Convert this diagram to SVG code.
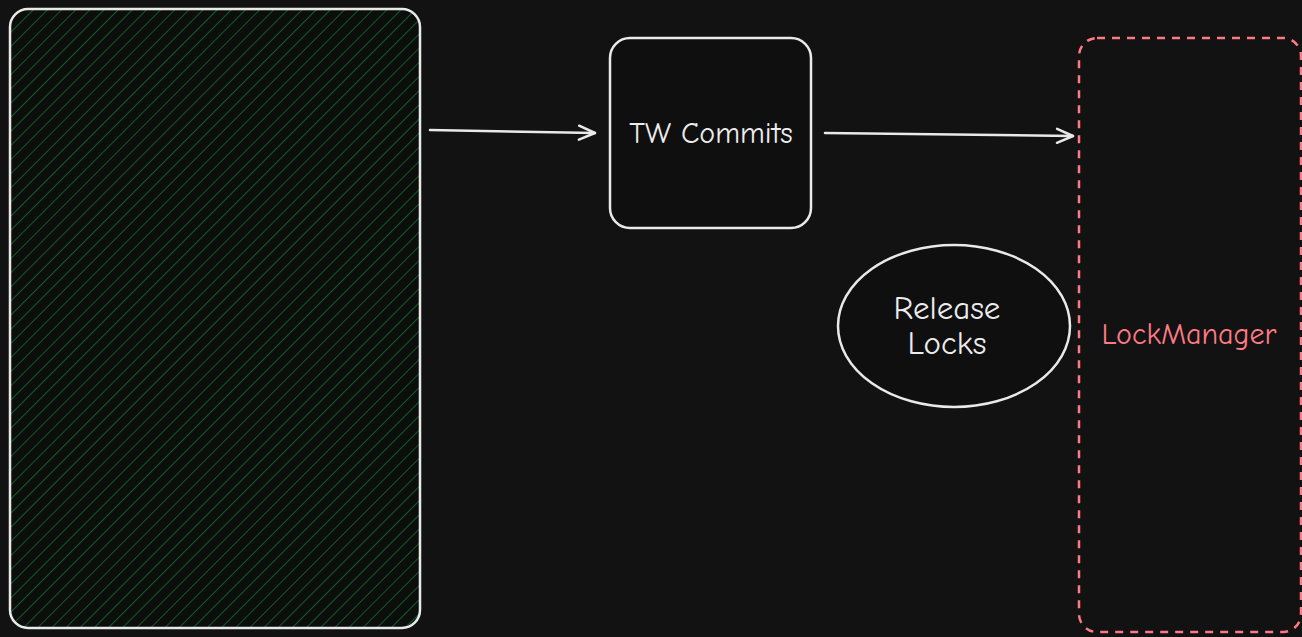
<svg xmlns="http://www.w3.org/2000/svg" width="1302" height="637" viewBox="0 0 1302 637">
<defs>
<style>
.stroke{fill:none;stroke:#e9e9e9;stroke-width:2.5;stroke-linecap:round}
.node{fill:#0f0f0f;stroke:#e9e9e9;stroke-width:2.5}
.lbl{font-family:"Comic Neue","Liberation Sans",sans-serif;font-size:30px;fill:#ececec;text-anchor:middle}
.big{font-size:33px}
.red{fill:#ff7a85}
</style>
<pattern id="hatch" patternUnits="userSpaceOnUse" width="10" height="10" patternTransform="rotate(45)">
<rect width="10" height="10" fill="#0c0e0c"/>
<line x1="0" y1="0" x2="0" y2="10" stroke="#105a28" stroke-width="2"/>
</pattern>
<marker id="ah" viewBox="0 0 20 20" refX="18" refY="10" markerWidth="20" markerHeight="20" markerUnits="userSpaceOnUse" orient="auto">
<path d="M2,3 L18,10 L2,17" fill="none" stroke="#e9e9e9" stroke-width="2.5" stroke-linecap="round" stroke-linejoin="round"/>
</marker>
</defs>
<rect width="1302" height="637" fill="#121212"/>
<g id="container">
<rect x="10" y="9" width="410" height="619" rx="18" fill="url(#hatch)" stroke="#e9e9e9" stroke-width="2.5"/>
</g>
<g id="tw-commits">
<rect class="node" x="610" y="38" width="201" height="190" rx="20"/>
<text class="lbl" x="711" y="143">TW Commits</text>
</g>
<g id="release-locks">
<ellipse class="node" cx="954" cy="326" rx="116" ry="81"/>
<text class="lbl big" x="947" y="319">Release</text>
<text class="lbl big" x="947" y="354">Locks</text>
</g>
<g id="lock-manager">
<rect x="1079" y="38" width="222" height="594" rx="18" fill="none" stroke="#ff7a85" stroke-width="2.5" stroke-dasharray="8 7"/>
<text class="lbl red" x="1189" y="344">LockManager</text>
</g>
<g id="connectors">
<line class="stroke" x1="430" y1="130" x2="595" y2="133" marker-end="url(#ah)"/>
<line class="stroke" x1="825" y1="133" x2="1073" y2="136" marker-end="url(#ah)" stroke-width="3"/>
</g>
</svg>
